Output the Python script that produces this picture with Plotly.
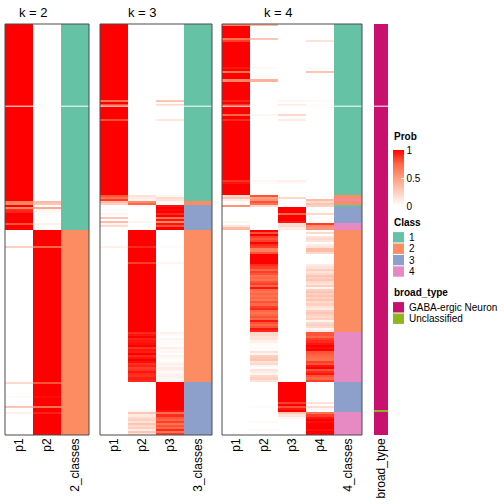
import plotly.graph_objects as go

W = H = 504
N_ROWS = 200

# ---------------- data ----------------
k2_cols = ["p1", "p2"]
k3_cols = ["p1", "p2", "p3"]
k4_cols = ["p1", "p2", "p3", "p4"]
class_labels = ["2_classes", "3_classes", "4_classes"]
class_names = ["1", "2", "3", "4"]
class_colors = ["#66C2A5", "#FC8D62", "#8DA0CB", "#E78AC3"]
broad_names = ["GABA-ergic Neuron", "Unclassified"]
broad_colors = ["#C8116F", "#8DB51C"]

# class runs: (first row, end row exclusive, class)
k2_class_runs = [(0, 100, 1), (100, 200, 2)]
k3_class_runs = [(0, 86, 1), (86, 88, 2), (88, 100, 3), (100, 174, 2), (174, 200, 3)]
k4_class_runs = [(0, 83, 1), (83, 85, 2), (85, 86, 4), (86, 88, 2), (88, 89, 1),
                 (89, 97, 3), (97, 100, 4), (100, 150, 2), (150, 174, 4),
                 (174, 189, 3), (189, 200, 4)]

# rows whose probabilities differ from a clean 1/0 membership
k2_prob_rows = {86: [0.65, 0.35], 87: [0.6, 0.3], 89: [0.6, 0.45], 90: [0.9, 0.05],
                91: [0.92, 0.03], 97: [0.8, 0.08], 108: [0.25, 0.75], 174: [0.2, 0.8],
                181: [0.03, 0.97], 186: [0.3, 0.7], 189: [0.08, 0.92]}

k3_prob_rows = {37: [0.7, 0, 0.3], 39: [0.8, 0, 0.2], 46: [0.82, 0, 0.12],
                83: [0.8, 0.15, 0.05], 84: [0.7, 0.1, 0.2], 85: [0.85, 0.05, 0.15],
                86: [0.35, 0.6, 0.05], 87: [0.25, 0.75, 0.0], 88: [0, 0.05, 0.95],
                90: [0.02, 0, 0.98], 92: [0.05, 0, 0.9], 94: [0.3, 0, 0.7],
                95: [0, 0, 0.95], 96: [0.35, 0.05, 0.6], 97: [0.05, 0, 0.95],
                98: [0.2, 0, 0.8], 108: [0.08, 0.9, 0.02], 116: [0, 0.85, 0.05]}
k3_rows_150_p2 = [0.9, 0.95, 1.0, 0.92, 0.95, 0.97, 1.0, 0.88, 0.95, 0.93, 1.0, 0.9,
                  0.95, 1.0, 0.96, 0.88, 0.92, 0.85, 0.88, 0.95, 0.9, 0.88, 0.93, 0.9]
k3_rows_150_p3 = [0.06, 0.03, 0, 0.05, 0.03, 0.02, 0, 0.08, 0.03, 0.05, 0, 0.06,
                  0.03, 0, 0.03, 0.08, 0.05, 0.1, 0.08, 0.03, 0.06, 0.08, 0.05, 0.06]
k3_rows_188_p2 = [0.05, 0.3, 0.1, 0.2, 0.25, 0.15, 0.3, 0.2, 0.25, 0.1, 0.3, 0.15]
k3_rows_188_p3 = [0.95, 0.7, 0.9, 0.8, 0.75, 0.85, 0.7, 0.8, 0.75, 0.9, 0.7, 0.85]

k4_prob_rows = {0: [0.65, 0.35, 0, 0], 7: [0.7, 0.3, 0, 0], 8: [0.85, 0, 0, 0.15],
                21: [0.95, 0.03, 0, 0.02], 23: [0.7, 0, 0, 0.3], 27: [0.6, 0.4, 0, 0],
                37: [0.92, 0, 0.05, 0.03], 39: [0.88, 0, 0.1, 0.02], 40: [0.97, 0, 0, 0.03],
                44: [0.75, 0.04, 0.2, 0], 46: [0.9, 0, 0.1, 0], 76: [0.88, 0.04, 0.08, 0],
                77: [0.95, 0.02, 0.03, 0], 83: [0.2, 0.8, 0, 0], 84: [0.3, 0.5, 0.2, 0],
                85: [0.1, 0.55, 0, 0.35], 86: [0, 0.8, 0, 0.2], 87: [0, 0.7, 0, 0.3],
                88: [0.55, 0.2, 0, 0.25], 92: [0, 0, 0.75, 0.2], 96: [0.05, 0, 0.95, 0],
                97: [0, 0, 0.15, 0.85], 98: [0.15, 0, 0.2, 0.6], 99: [0.35, 0, 0.1, 0.55],
                184: [0, 0, 0.85, 0.15], 186: [0, 0.02, 0.8, 0.18], 187: [0, 0, 0.95, 0.05],
                189: [0, 0, 0.3, 0.7], 190: [0, 0, 0.15, 0.85], 191: [0, 0, 0.05, 0.95],
                193: [0, 0.03, 0, 0.97], 197: [0, 0.03, 0, 0.97]}
k4_rows_100_p2 = [1.0, 0.8, 1.0, 0.85, 0.8, 0.85, 1.0, 0.9, 0.85, 0.65, 0.65, 0.8, 1.0,
                  1.0, 1.0, 1.0, 1.0, 0.9, 0.85, 0.75, 0.85, 0.8, 0.7, 0.75, 0.7, 0.8,
                  0.85, 0.75, 0.95, 0.75, 0.7, 0.75, 0.7, 0.75, 0.7, 0.8, 0.75, 0.85,
                  0.9, 0.75, 0.7, 0.75, 0.8, 0.75, 0.95, 0.8, 0.75, 0.8, 0.95, 0.9]
k4_rows_100_p4 = [0.0, 0.2, 0.0, 0.15, 0.2, 0.15, 0.0, 0.1, 0.15, 0.35, 0.35, 0.2, 0.0,
                  0.0, 0.0, 0.0, 0.0, 0.1, 0.15, 0.25, 0.15, 0.2, 0.3, 0.25, 0.3, 0.2,
                  0.15, 0.25, 0.05, 0.25, 0.3, 0.25, 0.3, 0.25, 0.3, 0.2, 0.25, 0.15,
                  0.1, 0.25, 0.3, 0.25, 0.2, 0.25, 0.05, 0.2, 0.25, 0.2, 0.05, 0.1]
k4_rows_150_p2 = [0.2, 0.2, 0.15, 0.15, 0.08, 0.03, 0, 0.03, 0, 0.15, 0.05, 0.25,
                  0.28, 0.3, 0.15, 0.2, 0.05, 0, 0.15, 0.1, 0.05, 0.2, 0.25, 0.15]
k4_rows_150_p4 = [0.8, 0.8, 0.75, 0.85, 0.9, 0.95, 1.0, 0.97, 1.0, 0.8, 0.78, 0.75,
                  0.72, 0.7, 0.85, 0.8, 0.95, 1.0, 0.8, 0.9, 0.95, 0.8, 0.75, 0.85]

unclassified_rows = [188]
separator_row_edge = 39.5

# ---------------- build matrices ----------------
def class_vector(runs):
    v = [0] * N_ROWS
    for a, b, c in runs:
        for r in range(a, b):
            v[r] = c
    return v

def prob_matrix(ncol, classes, overrides):
    z = []
    for r in range(N_ROWS):
        row = [0.0] * ncol
        row[classes[r] - 1] = 1.0
        z.append(row)
    for r, vals in overrides.items():
        z[r] = list(vals)
    return z

k2_class = class_vector(k2_class_runs)
k3_class = class_vector(k3_class_runs)
k4_class = class_vector(k4_class_runs)

k2_z = prob_matrix(2, k2_class, k2_prob_rows)
k3_z = prob_matrix(3, k3_class, k3_prob_rows)
for i, (a, b) in enumerate(zip(k3_rows_150_p2, k3_rows_150_p3)):
    k3_z[150 + i] = [0.0, a, b]
for i, (a, b) in enumerate(zip(k3_rows_188_p2, k3_rows_188_p3)):
    k3_z[188 + i] = [0.0, a, b]
k4_z = prob_matrix(4, k4_class, k4_prob_rows)
for i, (a, b) in enumerate(zip(k4_rows_100_p2, k4_rows_100_p4)):
    k4_z[100 + i] = [0.0, a, 0.0, b]
for i, (a, b) in enumerate(zip(k4_rows_150_p2, k4_rows_150_p4)):
    k4_z[150 + i] = [0.0, a, 0.0, b]

broad = [1] * N_ROWS
for r in unclassified_rows:
    broad[r] = 2

rows = list(range(N_ROWS))

# ---------------- figure ----------------
FONT = "Liberation Sans"
prob_scale = [[0, "#FFFFFF"], [0.25, "#FFCFBF"], [0.5, "#FF9E81"], [0.75, "#FF6846"], [1, "#FF0000"]]

def discrete_scale(colors):
    n = len(colors)
    s = []
    for i, c in enumerate(colors):
        s.append([i / n, c])
        s.append([(i + 1) / n, c])
    return s

fig = go.Figure()

panels = [
    (k2_cols, class_labels[0], k2_z, k2_class, "x", (5, 89)),
    (k3_cols, class_labels[1], k3_z, k3_class, "x2", (100, 212)),
    (k4_cols, class_labels[2], k4_z, k4_class, "x3", (222, 362)),
]
for cols, clab, z, cls, xa, _ in panels:
    fig.add_trace(go.Heatmap(z=z, x=list(range(len(cols))), y=rows, coloraxis="coloraxis",
                             xaxis=xa, yaxis="y", hoverinfo="skip"))
    fig.add_trace(go.Heatmap(z=[[c] for c in cls], x=[len(cols)], y=rows,
                             colorscale=discrete_scale(class_colors), zmin=0.5, zmax=4.5,
                             showscale=False, xaxis=xa, yaxis="y", hoverinfo="skip"))
fig.add_trace(go.Heatmap(z=[[b] for b in broad], x=[0], y=rows,
                         colorscale=discrete_scale(broad_colors), zmin=0.5, zmax=2.5,
                         showscale=False, xaxis="x4", yaxis="y", hoverinfo="skip"))

plot_top, plot_bottom = 24, 435
def py(pix):
    return 1 - pix / H
def px(pix):
    return pix / W

axis_common = dict(tickangle=-90, ticks="", showline=False, showgrid=False,
                   zeroline=False, tickfont=dict(family=FONT, size=12, color="black"),
                   anchor="y", fixedrange=True)
layout_axes = {}
tick_sets = [k2_cols + [class_labels[0]], k3_cols + [class_labels[1]],
             k4_cols + [class_labels[2]], ["broad_type"]]
domains = [p[5] for p in panels] + [(374, 388)]
names = ["xaxis", "xaxis2", "xaxis3", "xaxis4"]
for nm, (a, b), labels in zip(names, domains, tick_sets):
    layout_axes[nm] = dict(axis_common, domain=[px(a), px(b)],
                           range=[-0.5, len(labels) - 0.5],
                           tickvals=list(range(len(labels))), ticktext=labels)

fig.update_layout(
    width=W, height=H, margin=dict(l=0, r=0, t=0, b=0),
    paper_bgcolor="white", plot_bgcolor="white",
    font=dict(family=FONT, size=10, color="black"),
    yaxis=dict(domain=[py(plot_bottom), py(plot_top)], range=[N_ROWS - 0.5, -0.5],
               visible=False, fixedrange=True),
    coloraxis=dict(cmin=0, cmax=1, colorscale=prob_scale,
                   colorbar=dict(x=px(393), xanchor="left", y=py(178.3), yanchor="middle",
                                 len=55.5, lenmode="pixels", thickness=11,
                                 thicknessmode="pixels", outlinewidth=0,
                                 tickvals=[0, 0.5, 1], ticktext=["0", "0.5", "1"],
                                 ticks="inside", ticklen=3, tickcolor="white",
                                 tickfont=dict(family=FONT, size=10, color="black"),
                                 xpad=0, ypad=0)),
    showlegend=False,
    **layout_axes,
)

shapes = []
# thin white separator across the heatmap
shapes.append(dict(type="line", xref="paper", yref="y", x0=px(5), x1=px(388),
                   y0=separator_row_edge, y1=separator_row_edge,
                   line=dict(color="white", width=1), layer="above"))
for _, _, _, _, _, (a, b) in panels:
    shapes.append(dict(type="rect", xref="paper", yref="paper", x0=px(a), x1=px(b),
                       y0=py(plot_bottom), y1=py(plot_top),
                       line=dict(color="#4A4A4A", width=1), layer="above"))

annotations = []
# panel titles, centred over probability columns
for (cols, _, _, _, _, (a, b)), k in zip(panels, [2, 3, 4]):
    width = (b - a) / (len(cols) + 1)
    cx = a + width * len(cols) / 2
    annotations.append(dict(text=f"k = {k}", x=px(cx), y=py(12), xref="paper", yref="paper",
                            showarrow=False, xanchor="center", yanchor="middle",
                            font=dict(family=FONT, size=13)))

LEG_X = 393
BOX_W = 11
STEP = 11.4
def legend_title(text, y):
    annotations.append(dict(text=f"<b>{text}</b>", x=px(LEG_X - 1), y=py(y), xref="paper",
                            yref="paper", showarrow=False, xanchor="left", yanchor="middle",
                            font=dict(family=FONT, size=10)))

legend_title("Prob", 137)
legend_title("Class", 222.7)
legend_title("broad_type", 292.7)

def legend_items(labels, colors, y0):
    for i, (lab, col) in enumerate(zip(labels, colors)):
        yc = y0 + i * STEP
        shapes.append(dict(type="rect", xref="paper", yref="paper", x0=px(LEG_X),
                           x1=px(LEG_X + BOX_W), y0=py(yc + 5.2), y1=py(yc - 5.2),
                           line=dict(width=0), fillcolor=col))
        annotations.append(dict(text=lab, x=px(LEG_X + BOX_W + 3), y=py(yc), xref="paper",
                                yref="paper", showarrow=False, xanchor="left",
                                yanchor="middle", font=dict(family=FONT, size=10)))

legend_items(class_names, class_colors, 237.3)
legend_items(broad_names, broad_colors, 307.3)

fig.update_layout(shapes=shapes, annotations=annotations)
fig.write_html("out.html", config={"displayModeBar": False},
               post_script="document.body.style.margin='0';document.body.style.padding='0';")
